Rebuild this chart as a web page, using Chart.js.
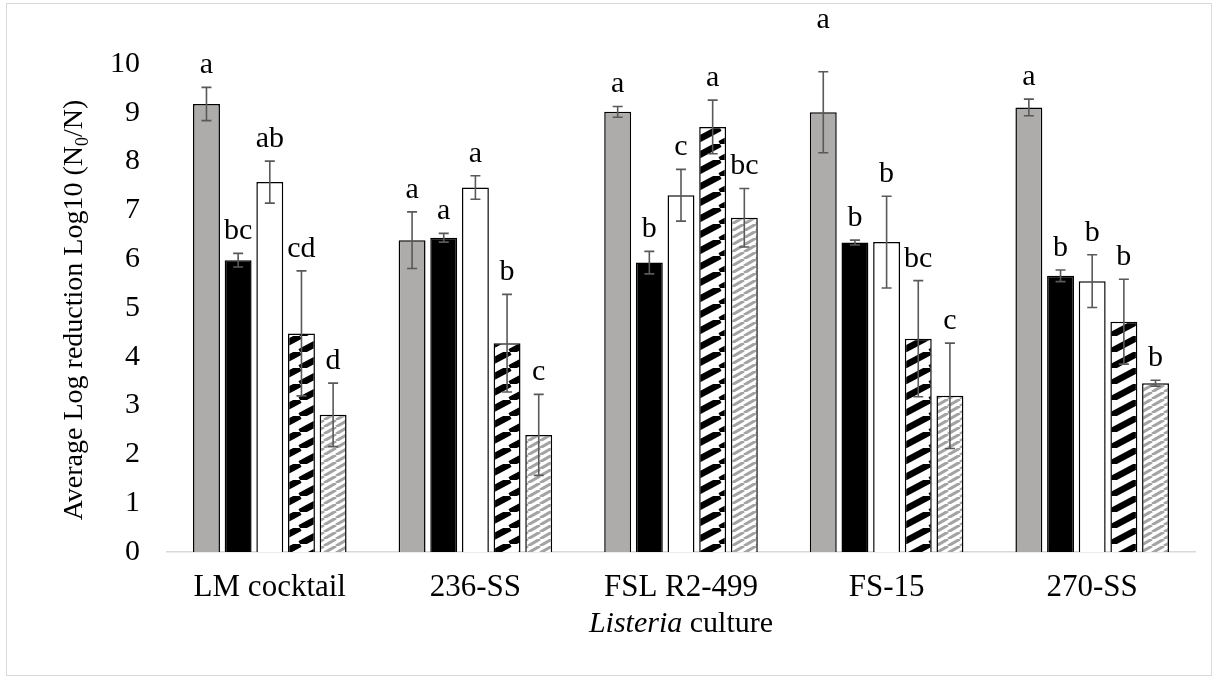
<!DOCTYPE html>
<html>
<head>
<meta charset="utf-8">
<script src="https://cdn.jsdelivr.net/npm/chart.js@4/dist/chart.umd.min.js"></script>
<style>
  html, body { margin: 0; padding: 0; background: #ffffff; }
  #wrap { width: 1217px; height: 679px; position: relative; }
</style>
</head>
<body>
<div id="wrap"><canvas id="chart" width="1217" height="679"></canvas></div>
<script>
// Listeria cultures on the x axis
const categories = ['LM cocktail', '236-SS', 'FSL R2-499', 'FS-15', '270-SS'];

// Mean log reductions per treatment
const treatment1 = [9.18, 6.39, 9.02, 9.01, 9.11];
const treatment2 = [5.98, 6.44, 5.93, 6.34, 5.66];
const treatment3 = [7.58, 7.47, 7.31, 6.35, 5.55];
const treatment4 = [4.48, 4.28, 8.71, 4.37, 4.72];
const treatment5 = [2.81, 2.40, 6.85, 3.20, 3.46];

// Standard deviations (error bars)
const error1 = [0.34, 0.58, 0.11, 0.83, 0.17];
const error2 = [0.14, 0.09, 0.23, 0.05, 0.12];
const error3 = [0.43, 0.24, 0.53, 0.94, 0.54];
const error4 = [1.28, 1.00, 0.55, 1.19, 0.87];
const error5 = [0.65, 0.83, 0.60, 1.08, 0.06];

// Significance letters
const letters1 = ['a', 'a', 'a', 'a', 'a'];
const letters2 = ['bc', 'a', 'b', 'b', 'b'];
const letters3 = ['ab', 'a', 'c', 'b', 'b'];
const letters4 = ['cd', 'b', 'a', 'bc', 'b'];
const letters5 = ['d', 'c', 'bc', 'c', 'b'];

// Y axis tick values
const yTicks = [0, 1, 2, 3, 4, 5, 6, 7, 8, 9, 10];

const SERIF = '"Liberation Serif", "Times New Roman", serif';

// Diagonal hatch fill: stripes rising to the right
function makeHatch(w, h, lineW, stripe, bg) {
  const c = document.createElement('canvas');
  c.width = w; c.height = h;
  const g = c.getContext('2d');
  g.fillStyle = bg;
  g.fillRect(0, 0, w, h);
  g.strokeStyle = stripe;
  g.lineWidth = lineW;
  for (let k = -1; k <= 1; k++) {
    g.beginPath();
    g.moveTo(k * w, h);
    g.lineTo(k * w + w, 0);
    g.stroke();
  }
  return g.createPattern(c, 'repeat');
}

const ctx = document.getElementById('chart').getContext('2d');
const blackHatch = makeHatch(30, 16, 6.5, '#000000', '#ffffff');
const grayHatch = makeHatch(12, 7, 3.0, '#a3a3a3', '#ffffff');

const seriesValues = [treatment1, treatment2, treatment3, treatment4, treatment5];
const seriesErrors = [error1, error2, error3, error4, error5];
const seriesLetters = [letters1, letters2, letters3, letters4, letters5];
const fills = ['#aeabab', '#000000', '#ffffff', blackHatch, grayHatch];

const datasets = seriesValues.map((vals, i) => ({
  label: 'Treatment ' + (i + 1),
  data: vals,
  backgroundColor: fills[i],
  borderColor: '#000000',
  borderWidth: 1.5,
  categoryPercentage: 0.77,
  barPercentage: 0.85,
  errors: seriesErrors[i],
  letters: seriesLetters[i]
}));

// Letter label nudges (dataset index, category index) -> extra pixels upward
const letterNudge = { '0,3': 30 };

const frame = {
  id: 'frame',
  beforeDraw(chart) {
    const c = chart.ctx;
    c.save();
    c.fillStyle = '#ffffff';
    c.fillRect(0, 0, chart.width, chart.height);
    c.strokeStyle = '#d9d9d9';
    c.lineWidth = 1;
    c.strokeRect(6.5, 3.5, 1205, 672);
    c.restore();
  }
};

const errorBarsAndLetters = {
  id: 'errorBarsAndLetters',
  afterDatasetsDraw(chart) {
    const c = chart.ctx;
    const y = chart.scales.y;
    c.save();
    chart.data.datasets.forEach((ds, di) => {
      const meta = chart.getDatasetMeta(di);
      meta.data.forEach((bar, i) => {
        const v = ds.data[i];
        const e = ds.errors[i];
        const x = bar.x;
        const yTop = y.getPixelForValue(v + e);
        const yBot = y.getPixelForValue(v - e);
        c.strokeStyle = '#595959';
        c.lineWidth = 1.6;
        c.beginPath();
        c.moveTo(x, yTop); c.lineTo(x, yBot);
        c.moveTo(x - 5, yTop); c.lineTo(x + 5, yTop);
        c.moveTo(x - 5, yBot); c.lineTo(x + 5, yBot);
        c.stroke();
        const nudge = letterNudge[di + ',' + i] || 0;
        c.fillStyle = '#000000';
        c.font = '30px ' + SERIF;
        c.textAlign = 'center';
        c.textBaseline = 'alphabetic';
        c.fillText(ds.letters[i], x, yTop - 14 - nudge);
      });
    });
    c.restore();
  }
};

const axisTitles = {
  id: 'axisTitles',
  afterDraw(chart) {
    const c = chart.ctx;
    const area = chart.chartArea;
    c.save();
    c.fillStyle = '#000000';
    c.textBaseline = 'alphabetic';

    // x axis title: "Listeria culture" with the genus in italics
    const italicPart = 'Listeria';
    const plainPart = ' culture';
    const fItalic = 'italic 30px ' + SERIF;
    const fPlain = '30px ' + SERIF;
    c.font = fItalic;
    const w1 = c.measureText(italicPart).width;
    c.font = fPlain;
    const w2 = c.measureText(plainPart).width;
    const cx = (area.left + area.right) / 2;
    const sx = cx - (w1 + w2) / 2;
    c.textAlign = 'left';
    c.font = fItalic;
    c.fillText(italicPart, sx, 632);
    c.font = fPlain;
    c.fillText(plainPart, sx + w1, 632);

    // y axis title with subscript zero
    const parts = [
      { t: 'Average Log reduction Log10 (N', f: '28px ' + SERIF, dy: 0 },
      { t: '0', f: '18px ' + SERIF, dy: 6 },
      { t: '/N)', f: '28px ' + SERIF, dy: 0 }
    ];
    let total = 0;
    parts.forEach(p => { c.font = p.f; p.w = c.measureText(p.t).width; total += p.w; });
    const cy = (area.top + area.bottom) / 2 + 2;
    c.translate(82, cy);
    c.rotate(-Math.PI / 2);
    let px = -total / 2;
    parts.forEach(p => {
      c.font = p.f;
      c.fillText(p.t, px, p.dy);
      px += p.w;
    });
    c.restore();
  }
};

new Chart(ctx, {
  type: 'bar',
  data: { labels: categories, datasets },
  options: {
    responsive: false,
    animation: false,
    devicePixelRatio: 1,
    layout: { padding: { left: 50, right: 22, top: 64, bottom: 10 } },
    plugins: {
      legend: { display: false },
      tooltip: { enabled: false }
    },
    scales: {
      x: {
        grid: { display: false, drawTicks: false },
        border: { display: true, color: '#d9d9d9', width: 1.5 },
        ticks: {
          color: '#000000',
          font: { family: SERIF, size: 31 },
          padding: 17,
          maxRotation: 0,
          autoSkip: false
        },
        afterFit(scale) { scale.height = 679 - 552 - 10; }
      },
      y: {
        min: 0,
        max: 10,
        grid: { display: false, drawTicks: false },
        border: { display: false },
        afterBuildTicks(scale) { scale.ticks = yTicks.map(v => ({ value: v })); },
        ticks: {
          color: '#000000',
          font: { family: SERIF, size: 30 },
          padding: 27
        },
        afterFit(scale) { scale.width = 167 - 50; }
      }
    }
  },
  plugins: [frame, errorBarsAndLetters, axisTitles]
});
</script>
</body>
</html>
